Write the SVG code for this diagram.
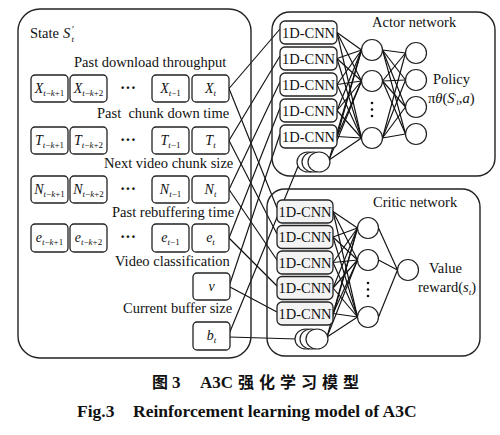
<svg xmlns="http://www.w3.org/2000/svg" width="500" height="435" viewBox="0 0 500 435">
<style>
text{font-family:"Liberation Serif","Times New Roman",serif;fill:#111}
.lbl{font-size:14.5px}
.bx{fill:#fff;stroke:#222;stroke-width:1.3}
.big{fill:none;stroke:#222;stroke-width:1.4}
.cnn{fill:#fff;stroke:#222;stroke-width:1.3}
.cnn2{fill:#f3f3f3;stroke:#222;stroke-width:1.3}
.n{fill:#fff;stroke:#222;stroke-width:1.2}
.c line{stroke:#111;stroke-width:1.15}
.it{font-style:italic}
.bt{font-size:14px;text-anchor:middle}
.sb{font-size:9px}
.cnt{font-size:14.5px;text-anchor:middle}
.dot{fill:#111}
</style>
<rect width="500" height="435" fill="#fff"/>

<!-- connectors -->
<g id="connectors" class="c">
  <!-- state to actor -->
  <line x1="229" y1="88.5" x2="280" y2="29"/>
  <line x1="229" y1="140.5" x2="280" y2="56"/>
  <line x1="229" y1="189.5" x2="280" y2="82"/>
  <line x1="229" y1="238" x2="280" y2="108"/>
  <line x1="229" y1="286.5" x2="280" y2="134"/>
  <line x1="229" y1="334" x2="299" y2="164"/>
  <!-- state to critic -->
  <line x1="229" y1="88.5" x2="277" y2="208"/>
  <line x1="229" y1="140.5" x2="277" y2="234"/>
  <line x1="229" y1="189.5" x2="277" y2="260"/>
  <line x1="229" y1="238" x2="277" y2="286"/>
  <line x1="229" y1="286.5" x2="277" y2="312"/>
  <line x1="229" y1="337" x2="297" y2="339"/>
  <!-- actor inputs to hidden -->
  <line x1="337" y1="32.5" x2="361.5" y2="50"/><line x1="337" y1="32.5" x2="361.5" y2="81"/><line x1="337" y1="32.5" x2="361.5" y2="138"/>
  <line x1="337" y1="58.5" x2="361.5" y2="50"/><line x1="337" y1="58.5" x2="361.5" y2="81"/><line x1="337" y1="58.5" x2="361.5" y2="138"/>
  <line x1="337" y1="84.5" x2="361.5" y2="50"/><line x1="337" y1="84.5" x2="361.5" y2="81"/><line x1="337" y1="84.5" x2="361.5" y2="138"/>
  <line x1="337" y1="110.5" x2="361.5" y2="50"/><line x1="337" y1="110.5" x2="361.5" y2="81"/><line x1="337" y1="110.5" x2="361.5" y2="138"/>
  <line x1="337" y1="136.5" x2="361.5" y2="50"/><line x1="337" y1="136.5" x2="361.5" y2="81"/><line x1="337" y1="136.5" x2="361.5" y2="138"/>
  <line x1="329" y1="160" x2="361.5" y2="50"/><line x1="329" y1="160" x2="361.5" y2="81"/><line x1="329" y1="160" x2="361.5" y2="138"/>
  <!-- actor hidden to output -->
  <line x1="382.5" y1="50" x2="405.5" y2="53"/><line x1="382.5" y1="50" x2="405.5" y2="80"/><line x1="382.5" y1="50" x2="405.5" y2="107"/><line x1="382.5" y1="50" x2="405.5" y2="134"/>
  <line x1="382.5" y1="81" x2="405.5" y2="53"/><line x1="382.5" y1="81" x2="405.5" y2="80"/><line x1="382.5" y1="81" x2="405.5" y2="107"/><line x1="382.5" y1="81" x2="405.5" y2="134"/>
  <line x1="382.5" y1="138" x2="405.5" y2="53"/><line x1="382.5" y1="138" x2="405.5" y2="80"/><line x1="382.5" y1="138" x2="405.5" y2="107"/><line x1="382.5" y1="138" x2="405.5" y2="134"/>
  <!-- critic inputs to hidden -->
  <line x1="333" y1="211.5" x2="357.5" y2="228"/><line x1="333" y1="211.5" x2="357.5" y2="260"/><line x1="333" y1="211.5" x2="357.5" y2="317"/>
  <line x1="333" y1="237" x2="357.5" y2="228"/><line x1="333" y1="237" x2="357.5" y2="260"/><line x1="333" y1="237" x2="357.5" y2="317"/>
  <line x1="333" y1="262.5" x2="357.5" y2="228"/><line x1="333" y1="262.5" x2="357.5" y2="260"/><line x1="333" y1="262.5" x2="357.5" y2="317"/>
  <line x1="333" y1="288" x2="357.5" y2="228"/><line x1="333" y1="288" x2="357.5" y2="260"/><line x1="333" y1="288" x2="357.5" y2="317"/>
  <line x1="333" y1="313.5" x2="357.5" y2="228"/><line x1="333" y1="313.5" x2="357.5" y2="260"/><line x1="333" y1="313.5" x2="357.5" y2="317"/>
  <line x1="327" y1="337" x2="357.5" y2="228"/><line x1="327" y1="337" x2="357.5" y2="260"/><line x1="327" y1="337" x2="357.5" y2="317"/>
  <!-- critic hidden to output -->
  <line x1="378.5" y1="228" x2="397.5" y2="270"/><line x1="378.5" y1="260" x2="397.5" y2="270"/><line x1="378.5" y1="317" x2="397.5" y2="270"/>
</g>

<!-- state box -->
<g id="state">
  <rect class="big" x="18" y="9" width="233" height="349" rx="22"/>
  <text class="lbl" x="30" y="38">State</text>
  <text class="lbl it" x="63" y="38">S</text>
  <text x="72" y="33" style="font-size:10px">′</text>
  <text class="it" x="71.5" y="42" style="font-size:9px">t</text>

  <text class="lbl" x="74" y="67">Past download throughput</text>
  <text class="lbl" x="97" y="118" xml:space="preserve">Past  chunk down time</text>
  <text class="lbl" x="104" y="168">Next video chunk size</text>
  <text class="lbl" x="112" y="217">Past rebuffering time</text>
  <text class="lbl" x="115" y="266">Video classification</text>
  <text class="lbl" x="123" y="313">Current buffer size</text>
</g>

<g id="row-x">
  <rect class="bx" x="31" y="75" width="37" height="27" rx="4"/>
  <rect class="bx" x="70" y="75" width="37" height="27" rx="4"/>
  <rect class="bx" x="152" y="75" width="37" height="27" rx="4"/>
  <rect class="bx" x="192" y="75" width="37" height="27" rx="4"/>
  <text class="bt" x="49.5" y="93"><tspan class="it">X</tspan><tspan class="sb it" dy="3">t</tspan><tspan class="sb">−</tspan><tspan class="sb it">k</tspan><tspan class="sb">+1</tspan></text>
  <text class="bt" x="88.5" y="93"><tspan class="it">X</tspan><tspan class="sb it" dy="3">t</tspan><tspan class="sb">−</tspan><tspan class="sb it">k</tspan><tspan class="sb">+2</tspan></text>
  <text x="128" y="93" style="font-size:16px;font-weight:bold;text-anchor:middle">···</text>
  <text class="bt" x="170.5" y="93"><tspan class="it">X</tspan><tspan class="sb it" dy="3">t</tspan><tspan class="sb">−1</tspan></text>
  <text class="bt" x="210.5" y="93"><tspan class="it">X</tspan><tspan class="sb it" dy="3">t</tspan></text>
</g>
<g id="row-t">
  <rect class="bx" x="31" y="127" width="37" height="27" rx="4"/>
  <rect class="bx" x="70" y="127" width="37" height="27" rx="4"/>
  <rect class="bx" x="152" y="127" width="37" height="27" rx="4"/>
  <rect class="bx" x="192" y="127" width="37" height="27" rx="4"/>
  <text class="bt" x="49.5" y="145"><tspan class="it">T</tspan><tspan class="sb it" dy="3">t</tspan><tspan class="sb">−</tspan><tspan class="sb it">k</tspan><tspan class="sb">+1</tspan></text>
  <text class="bt" x="88.5" y="145"><tspan class="it">T</tspan><tspan class="sb it" dy="3">t</tspan><tspan class="sb">−</tspan><tspan class="sb it">k</tspan><tspan class="sb">+2</tspan></text>
  <text x="128" y="145" style="font-size:16px;font-weight:bold;text-anchor:middle">···</text>
  <text class="bt" x="170.5" y="145"><tspan class="it">T</tspan><tspan class="sb it" dy="3">t</tspan><tspan class="sb">−1</tspan></text>
  <text class="bt" x="210.5" y="145"><tspan class="it">T</tspan><tspan class="sb it" dy="3">t</tspan></text>
</g>
<g id="row-n">
  <rect class="bx" x="31" y="176" width="37" height="27" rx="4"/>
  <rect class="bx" x="70" y="176" width="37" height="27" rx="4"/>
  <rect class="bx" x="152" y="176" width="37" height="27" rx="4"/>
  <rect class="bx" x="192" y="176" width="37" height="27" rx="4"/>
  <text class="bt" x="49.5" y="194"><tspan class="it">N</tspan><tspan class="sb it" dy="3">t</tspan><tspan class="sb">−</tspan><tspan class="sb it">k</tspan><tspan class="sb">+1</tspan></text>
  <text class="bt" x="88.5" y="194"><tspan class="it">N</tspan><tspan class="sb it" dy="3">t</tspan><tspan class="sb">−</tspan><tspan class="sb it">k</tspan><tspan class="sb">+2</tspan></text>
  <text x="128" y="194" style="font-size:16px;font-weight:bold;text-anchor:middle">···</text>
  <text class="bt" x="170.5" y="194"><tspan class="it">N</tspan><tspan class="sb it" dy="3">t</tspan><tspan class="sb">−1</tspan></text>
  <text class="bt" x="210.5" y="194"><tspan class="it">N</tspan><tspan class="sb it" dy="3">t</tspan></text>
</g>
<g id="row-e">
  <rect class="bx" x="31" y="224" width="37" height="28" rx="4"/>
  <rect class="bx" x="70" y="224" width="37" height="28" rx="4"/>
  <rect class="bx" x="152" y="224" width="37" height="28" rx="4"/>
  <rect class="bx" x="192" y="224" width="37" height="28" rx="4"/>
  <text class="bt" x="49.5" y="242"><tspan class="it">e</tspan><tspan class="sb it" dy="3">t</tspan><tspan class="sb">−</tspan><tspan class="sb it">k</tspan><tspan class="sb">+1</tspan></text>
  <text class="bt" x="88.5" y="242"><tspan class="it">e</tspan><tspan class="sb it" dy="3">t</tspan><tspan class="sb">−</tspan><tspan class="sb it">k</tspan><tspan class="sb">+2</tspan></text>
  <text x="128" y="242" style="font-size:16px;font-weight:bold;text-anchor:middle">···</text>
  <text class="bt" x="170.5" y="242"><tspan class="it">e</tspan><tspan class="sb it" dy="3">t</tspan><tspan class="sb">−1</tspan></text>
  <text class="bt" x="210.5" y="242"><tspan class="it">e</tspan><tspan class="sb it" dy="3">t</tspan></text>
</g>
<g id="box-v">
  <rect class="bx" x="193" y="273" width="37" height="27" rx="4"/>
  <text class="bt it" x="211.5" y="291">v</text>
</g>
<g id="box-b">
  <rect class="bx" x="193" y="322" width="37" height="28" rx="4"/>
  <text class="bt" x="211.5" y="340"><tspan class="it">b</tspan><tspan class="sb it" dy="3">t</tspan></text>
</g>

<!-- actor network -->
<g id="actor">
  <rect class="big" x="272" y="12" width="223" height="164" rx="18"/>
  <text class="lbl" x="372" y="27">Actor network</text>
  <g id="actor-cnn">
    <rect class="cnn" x="280" y="21" width="57" height="23" rx="5"/>
    <rect class="cnn" x="280" y="47" width="57" height="23" rx="5"/>
    <rect class="cnn" x="280" y="73" width="57" height="23" rx="5"/>
    <rect class="cnn" x="280" y="99" width="57" height="23" rx="5"/>
    <rect class="cnn" x="280" y="125" width="57" height="23" rx="5"/>
    <text class="cnt" x="308.5" y="37.5">1D-CNN</text>
    <text class="cnt" x="308.5" y="63.5">1D-CNN</text>
    <text class="cnt" x="308.5" y="89.5">1D-CNN</text>
    <text class="cnt" x="308.5" y="115.5">1D-CNN</text>
    <text class="cnt" x="308.5" y="141.5">1D-CNN</text>
  </g>
  <g id="actor-stack">
    <ellipse class="n" cx="308" cy="162" rx="11" ry="10"/>
    <ellipse class="n" cx="313" cy="162" rx="11" ry="10"/>
    <ellipse class="n" cx="319" cy="162" rx="11" ry="10"/>
  </g>
  <g id="actor-hidden">
    <circle class="n" cx="372" cy="50" r="10.5"/>
    <circle class="n" cx="372" cy="81" r="10.5"/>
    <circle class="n" cx="372" cy="138" r="10.5"/>
    <circle class="dot" cx="372" cy="103" r="1.3"/>
    <circle class="dot" cx="372" cy="109.5" r="1.3"/>
    <circle class="dot" cx="372" cy="116" r="1.3"/>
  </g>
  <g id="actor-out">
    <circle class="n" cx="416" cy="53" r="10.5"/>
    <circle class="n" cx="416" cy="80" r="10.5"/>
    <circle class="n" cx="416" cy="107" r="10.5"/>
    <circle class="n" cx="416" cy="134" r="10.5"/>
  </g>
  <text class="lbl" x="433" y="84">Policy</text>
  <text class="lbl" x="428" y="103">π<tspan class="it">θ</tspan>(<tspan class="it">S</tspan><tspan style="font-size:9px" dy="-3">′</tspan><tspan class="it" style="font-size:8px" dy="5">t</tspan><tspan dy="-2">,</tspan><tspan class="it">a</tspan>)</text>
</g>

<!-- critic network -->
<g id="critic">
  <rect class="big" x="267" y="189" width="213" height="167" rx="18"/>
  <text class="lbl" x="373" y="207">Critic network</text>
  <g id="critic-cnn">
    <rect class="cnn2" x="277" y="200" width="56" height="23" rx="5"/>
    <rect class="cnn2" x="277" y="225.5" width="56" height="23" rx="5"/>
    <rect class="cnn2" x="277" y="251" width="56" height="23" rx="5"/>
    <rect class="cnn2" x="277" y="276.5" width="56" height="23" rx="5"/>
    <rect class="cnn2" x="277" y="302" width="56" height="23" rx="5"/>
    <text class="cnt" x="305" y="216.5">1D-CNN</text>
    <text class="cnt" x="305" y="242">1D-CNN</text>
    <text class="cnt" x="305" y="267.5">1D-CNN</text>
    <text class="cnt" x="305" y="293">1D-CNN</text>
    <text class="cnt" x="305" y="318.5">1D-CNN</text>
  </g>
  <g id="critic-stack">
    <ellipse class="n" cx="306" cy="339" rx="11" ry="10"/>
    <ellipse class="n" cx="311" cy="339" rx="11" ry="10"/>
    <ellipse class="n" cx="317" cy="339" rx="11" ry="10"/>
  </g>
  <g id="critic-hidden">
    <circle class="n" cx="368" cy="228" r="10.5"/>
    <circle class="n" cx="368" cy="260" r="10.5"/>
    <circle class="n" cx="368" cy="317" r="10.5"/>
    <circle class="dot" cx="368" cy="283" r="1.3"/>
    <circle class="dot" cx="368" cy="289.5" r="1.3"/>
    <circle class="dot" cx="368" cy="296" r="1.3"/>
  </g>
  <g id="critic-out">
    <circle class="n" cx="408" cy="270" r="10.5"/>
  </g>
  <text class="lbl" x="429" y="273">Value</text>
  <text class="lbl" x="418" y="292">reward(<tspan class="it">s</tspan><tspan class="it" style="font-size:9px" dy="3">t</tspan><tspan dy="-3">)</tspan></text>
</g>

<!-- captions -->
<g id="caption">
  <text x="152" y="388" style="font-family:'Noto Sans CJK SC','Liberation Serif',sans-serif;font-size:16px;font-weight:bold">图</text>
  <text x="172" y="388" style="font-size:17px;font-weight:bold">3</text>
  <text x="200" y="388" style="font-size:17px;font-weight:bold">A3C</text>
  <text x="238" y="388" style="font-family:'Noto Sans CJK SC',sans-serif;font-size:16px;font-weight:bold;letter-spacing:5px">强化学习模型</text>
  <text x="77" y="417" style="font-size:17.5px;font-weight:bold">Fig.3</text>
  <text x="133" y="417" style="font-size:17.5px;font-weight:bold">Reinforcement learning model of A3C</text>
</g>
</svg>
